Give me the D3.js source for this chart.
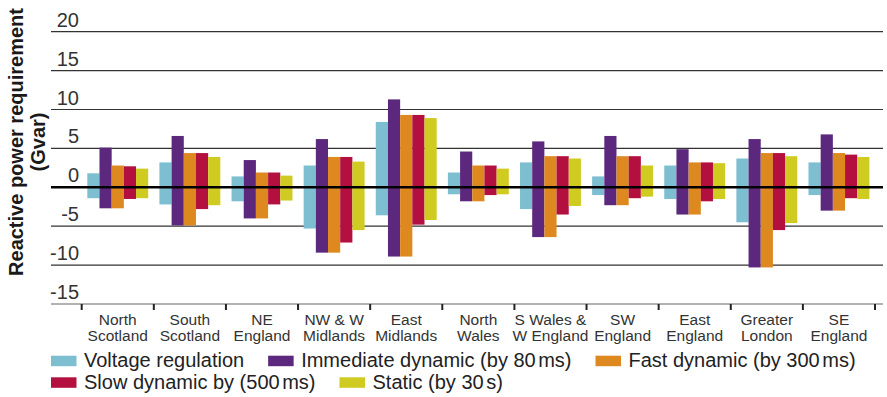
<!DOCTYPE html>
<html>
<head>
<meta charset="utf-8">
<script src="https://cdn.jsdelivr.net/npm/d3@7"></script>
<style>
  html, body { margin: 0; padding: 0; background: #fff; }
  svg { display: block; font-family: "Liberation Sans", Arial, Helvetica, sans-serif; }
</style>
</head>
<body>
<svg id="chart" width="887" height="397"></svg>
<script>
// ---- data ----
const categories = [
  "North\nScotland", "South\nScotland", "NE\nEngland", "NW & W\nMidlands", "East\nMidlands",
  "North\nWales", "S Wales &\nW England", "SW\nEngland", "East\nEngland", "Greater\nLondon", "SE\nEngland"
];
const seriesNames = [
  "Voltage regulation",
  "Immediate dynamic (by 80\u2009ms)",
  "Fast dynamic (by 300\u2009ms)",
  "Slow dynamic by (500\u2009ms)",
  "Static (by 30\u2009s)"
];
const seriesColors = ["#7dbfd0", "#5c287e", "#dd891f", "#b3103f", "#cfcb21"];

// upper (positive) and lower (negative) requirement, Gvar
const voltageTop    = [1.8, 3.2, 1.4, 2.8, 8.4, 1.9, 3.2, 1.4, 2.8, 3.7, 3.2];
const voltageBottom = [-1.4, -2.2, -1.8, -5.3, -3.6, -0.9, -2.8, -1.0, -1.5, -4.5, -1.0];
const immediateTop    = [5.1, 6.6, 3.5, 6.2, 11.3, 4.6, 5.9, 6.6, 4.9, 6.2, 6.8];
const immediateBottom = [-2.7, -4.9, -4.0, -8.4, -8.9, -1.8, -6.4, -2.3, -3.5, -10.3, -3.0];
const fastTop    = [2.8, 4.4, 1.9, 3.9, 9.3, 2.8, 4.0, 4.0, 3.2, 4.4, 4.4];
const fastBottom = [-2.7, -4.9, -4.0, -8.4, -8.9, -1.8, -6.4, -2.3, -3.5, -10.3, -3.0];
const slowTop    = [2.7, 4.4, 1.9, 3.9, 9.3, 2.8, 4.0, 4.0, 3.2, 4.4, 4.2];
const slowBottom = [-1.5, -2.8, -2.2, -7.1, -4.8, -1.0, -3.5, -1.4, -1.8, -5.5, -1.4];
const staticTop    = [2.4, 3.9, 1.5, 3.3, 8.9, 2.4, 3.7, 2.8, 3.1, 4.0, 3.9];
const staticBottom = [-1.4, -2.3, -1.7, -5.5, -4.2, -0.9, -2.4, -1.2, -1.5, -4.6, -1.5];

const yTicks = [-15, -10, -5, 0, 5, 10, 15, 20];
const yTitle = ["Reactive power requirement", "(Gvar)"];

const tops = [voltageTop, immediateTop, fastTop, slowTop, staticTop];
const bottoms = [voltageBottom, immediateBottom, fastBottom, slowBottom, staticBottom];

// ---- layout ----
const svg = d3.select("#chart");
const gridLeft = 51, gridRight = 883;

const x0 = d3.scaleBand().domain(categories).range([81.7, 875]).paddingInner(0).paddingOuter(0);
const x1 = d3.scaleBand().domain(d3.range(seriesNames.length))
  .range([0, x0.bandwidth()]).paddingInner(0).paddingOuter(0.46);
const y = d3.scaleLinear().domain([-15, 20]).range([304, 31.7]);

// gridlines
svg.append("g").selectAll("line").data(yTicks.filter(d => d !== 0)).join("line")
  .attr("x1", gridLeft).attr("x2", gridRight)
  .attr("y1", d => y(d)).attr("y2", d => y(d))
  .attr("stroke", d => d === -15 ? "#666" : "#333")
  .attr("stroke-width", 1.2);

// y tick labels
svg.append("g").selectAll("text").data(yTicks).join("text")
  .attr("x", 79).attr("y", d => y(d) - 5)
  .attr("text-anchor", "end")
  .attr("font-size", 20).attr("fill", "#333")
  .text(d => d);

// bars
const rows = [];
categories.forEach((c, ci) => {
  seriesNames.forEach((s, si) => {
    rows.push({ c, si, top: tops[si][ci], bottom: bottoms[si][ci] });
  });
});
svg.append("g").selectAll("rect").data(rows).join("rect")
  .attr("x", d => x0(d.c) + x1(d.si))
  .attr("width", x1.bandwidth())
  .attr("y", d => y(d.top))
  .attr("height", d => y(d.bottom) - y(d.top))
  .attr("fill", d => seriesColors[d.si]);

// zero line
svg.append("line")
  .attr("x1", gridLeft).attr("x2", gridRight)
  .attr("y1", y(0)).attr("y2", y(0))
  .attr("stroke", "#000").attr("stroke-width", 2.6);

// x ticks at category boundaries
const boundaries = categories.map(c => x0(c)).concat([x0.range()[1]]);
svg.append("g").selectAll("line").data(boundaries).join("line")
  .attr("x1", d => d).attr("x2", d => d)
  .attr("y1", y(-15)).attr("y2", y(-15) + 6)
  .attr("stroke", "#222").attr("stroke-width", 2);

// x labels
const xl = svg.append("g").selectAll("text").data(categories).join("text")
  .attr("text-anchor", "middle")
  .attr("font-size", 15.5).attr("fill", "#333")
  .attr("x", d => x0(d) + x0.bandwidth() / 2);
xl.each(function(d) {
  const t = d3.select(this);
  d.split("\n").forEach((line, i) => {
    t.append("tspan").attr("x", x0(d) + x0.bandwidth() / 2)
      .attr("y", 325.3 + i * 15.4).text(line);
  });
});

// y title
const yt = svg.append("g").attr("transform", "rotate(-90)");
yTitle.forEach((line, i) => {
  yt.append("text")
    .attr("x", -142).attr("y", 23 + i * 22)
    .attr("text-anchor", "middle")
    .attr("font-size", 20).attr("font-weight", "bold").attr("fill", "#1a1a1a")
    .text(line);
});

// legend
const legendRows = [[0, 1, 2], [3, 4]];
const legendY = [355.7, 377.3];
const lg = svg.append("g");
legendRows.forEach((row, ri) => {
  let cx = 51;
  row.forEach(si => {
    lg.append("rect").attr("x", cx).attr("y", legendY[ri])
      .attr("width", 25.5).attr("height", 10.5).attr("fill", seriesColors[si]);
    const t = lg.append("text").attr("x", cx + 33).attr("y", legendY[ri] + 11.3)
      .attr("font-size", 20).attr("fill", "#222");
    // render thin spaces as a small gap
    seriesNames[si].split("\u2009").forEach((part, pi) => {
      t.append("tspan").attr("dx", pi > 0 ? 2.5 : 0).text(part);
    });
    cx += 33 + t.node().getComputedTextLength() + 2.5 * (seriesNames[si].split("\u2009").length - 1) + 24;
  });
});
</script>
</body>
</html>
